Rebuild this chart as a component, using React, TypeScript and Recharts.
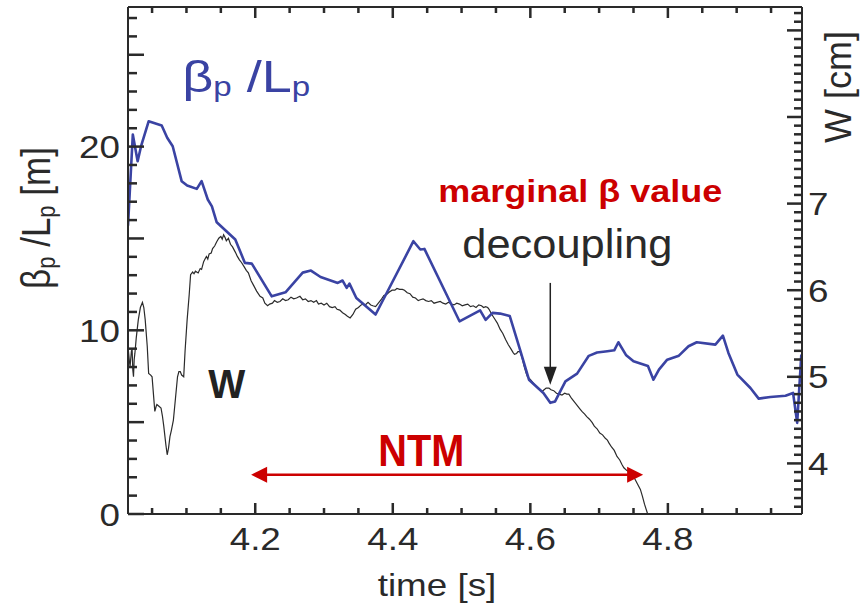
import React from 'react';
import { LineChart, Line, XAxis, YAxis, ReferenceLine, ReferenceDot } from 'recharts';

// beta_p / L_p [m], left axis
const T_BETA = [
  4.015, 4.022, 4.029, 4.034, 4.045, 4.064, 4.072, 4.08, 4.093, 4.101,
  4.115, 4.122, 4.131, 4.137, 4.144, 4.171, 4.185, 4.195, 4.224, 4.244,
  4.269, 4.281, 4.295, 4.32, 4.327, 4.333, 4.337, 4.347, 4.375, 4.43,
  4.44, 4.446, 4.497, 4.527, 4.535, 4.545, 4.556, 4.57, 4.585, 4.598,
  4.619, 4.629, 4.636, 4.651, 4.668, 4.685, 4.697, 4.712, 4.722, 4.728,
  4.739, 4.75, 4.771, 4.779, 4.787, 4.799, 4.816, 4.83, 4.842, 4.869,
  4.88, 4.888, 4.901, 4.92, 4.932, 4.949, 4.971, 4.982, 4.988, 4.994,
];
const BETA = [
  15.7, 20.66, 19.2, 20.02, 21.38, 21.15, 20.48, 20.02, 18.12, 17.88,
  17.7, 18.12, 17.12, 16.75, 15.88, 14.94, 13.67, 13.63, 11.85, 12.07,
  13.14, 13.25, 12.9, 12.58, 12.71, 12.31, 12.54, 11.76, 10.86, 14.85,
  14.4, 14.43, 10.49, 11.09, 10.57, 10.95, 10.91, 10.78, 8.95, 7.31,
  6.59, 6.05, 6.13, 7.22, 7.64, 8.61, 8.79, 8.86, 8.91, 9.35,
  8.66, 8.31, 8.06, 7.31, 7.86, 8.4, 8.62, 9.13, 9.35, 9.22,
  9.71, 8.77, 7.59, 6.86, 6.28, 6.37, 6.44, 6.59, 4.96, 8.68,
];

// island width W [cm], right axis
const T_W = [
  4.015, 4.017, 4.018, 4.02, 4.021, 4.022, 4.023, 4.024, 4.025, 4.027,
  4.03, 4.033, 4.036, 4.038, 4.04, 4.043, 4.045, 4.048, 4.05, 4.052,
  4.054, 4.056, 4.057, 4.06, 4.063, 4.065, 4.067, 4.07, 4.072, 4.074,
  4.076, 4.078, 4.081, 4.084, 4.087, 4.089, 4.091, 4.093, 4.096, 4.098,
  4.101, 4.104, 4.106, 4.109, 4.111, 4.113, 4.117, 4.12, 4.122, 4.125,
  4.127, 4.129, 4.131, 4.133, 4.136, 4.138, 4.141, 4.144, 4.147, 4.15,
  4.152, 4.154, 4.156, 4.158, 4.161, 4.164, 4.167, 4.171, 4.174, 4.177,
  4.18, 4.184, 4.187, 4.19, 4.194, 4.198, 4.202, 4.207, 4.211, 4.214,
  4.218, 4.221, 4.225, 4.228, 4.232, 4.236, 4.24, 4.244, 4.248, 4.252,
  4.256, 4.26, 4.265, 4.269, 4.273, 4.277, 4.281, 4.285, 4.289, 4.292,
  4.296, 4.3, 4.304, 4.308, 4.312, 4.316, 4.319, 4.323, 4.327, 4.331,
  4.334, 4.338, 4.342, 4.346, 4.35, 4.354, 4.357, 4.36, 4.364, 4.368,
  4.371, 4.375, 4.379, 4.383, 4.387, 4.391, 4.395, 4.399, 4.403, 4.406,
  4.41, 4.414, 4.417, 4.421, 4.425, 4.429, 4.433, 4.437, 4.44, 4.444,
  4.448, 4.452, 4.456, 4.46, 4.464, 4.469, 4.473, 4.477, 4.481, 4.485,
  4.489, 4.493, 4.497, 4.501, 4.505, 4.509, 4.513, 4.517, 4.521, 4.525,
  4.529, 4.532, 4.535, 4.538, 4.54, 4.544, 4.548, 4.552, 4.556, 4.56,
  4.564, 4.568, 4.572, 4.575, 4.577, 4.58, 4.582, 4.585, 4.588, 4.591,
  4.594, 4.596, 4.6, 4.604, 4.608, 4.612, 4.615, 4.617, 4.62, 4.623,
  4.627, 4.63, 4.634, 4.638, 4.642, 4.646, 4.65, 4.653, 4.656, 4.66,
  4.664, 4.668, 4.672, 4.675, 4.679, 4.682, 4.686, 4.69, 4.693, 4.697,
  4.701, 4.705, 4.709, 4.712, 4.714, 4.718, 4.722, 4.726, 4.73, 4.733,
  4.736, 4.74, 4.744, 4.748, 4.752, 4.756, 4.76, 4.763, 4.766, 4.77,
  4.772,
];
const W_CM = [
  5.35, 5.18, 5.12, 5.3, 5.31, 5.08, 5.0, 5.2, 5.27, 5.45,
  5.66, 5.8, 5.86, 5.8, 5.66, 5.35, 5.04, 5.02, 5.0, 4.8,
  4.6, 4.66, 4.68, 4.66, 4.64, 4.55, 4.43, 4.22, 4.1, 4.18,
  4.31, 4.38, 4.5, 4.75, 5.0, 5.06, 5.06, 5.02, 5.0, 5.3,
  5.66, 5.95, 6.18, 6.21, 6.19, 6.22, 6.2, 6.25, 6.24, 6.33,
  6.36, 6.39, 6.36, 6.42, 6.43, 6.48, 6.51, 6.56, 6.6, 6.62,
  6.59, 6.64, 6.61, 6.57, 6.6, 6.53, 6.5, 6.44, 6.39, 6.35,
  6.32, 6.27, 6.23, 6.2, 6.11, 6.05, 5.99, 5.93, 5.91, 5.85,
  5.82, 5.84, 5.85, 5.88, 5.86, 5.87, 5.9, 5.88, 5.89, 5.92,
  5.9, 5.91, 5.93, 5.89, 5.9, 5.87, 5.88, 5.86, 5.88, 5.84,
  5.85, 5.83, 5.85, 5.81, 5.8, 5.81, 5.78, 5.77, 5.74, 5.72,
  5.7, 5.68, 5.72, 5.78, 5.8, 5.83, 5.84, 5.83, 5.86, 5.83,
  5.82, 5.81, 5.85, 5.89, 5.94, 5.95, 5.98, 6.0, 6.0, 6.02,
  6.01, 6.01, 6.0, 5.97, 5.96, 5.92, 5.91, 5.88, 5.89, 5.9,
  5.88, 5.87, 5.88, 5.85, 5.86, 5.87, 5.85, 5.84, 5.86, 5.84,
  5.83, 5.85, 5.84, 5.82, 5.83, 5.84, 5.81, 5.82, 5.8, 5.83,
  5.82, 5.8, 5.81, 5.8, 5.78, 5.72, 5.67, 5.62, 5.55, 5.5,
  5.43, 5.37, 5.32, 5.28, 5.26, 5.27, 5.29, 5.29, 5.22, 5.12,
  5.04, 5.0, 4.97, 4.93, 4.89, 4.86, 4.84, 4.83, 4.85, 4.87,
  4.87, 4.85, 4.84, 4.81, 4.8, 4.79, 4.81, 4.8, 4.8, 4.75,
  4.71, 4.67, 4.63, 4.6, 4.57, 4.54, 4.51, 4.47, 4.43, 4.4,
  4.35, 4.33, 4.29, 4.27, 4.24, 4.19, 4.15, 4.08, 4.04, 3.99,
  3.95, 3.92, 3.9, 3.87, 3.82, 3.76, 3.7, 3.62, 3.53, 3.43,
  3.38,
];

const X_DOMAIN = [4.015, 4.995];
const LEFT_DOMAIN = [0, 27.6];
const RIGHT_DOMAIN = [3.416, 9.27];

const X_TICKS = Array.from({ length: 19 }, (_, i) => Math.round((4.05 + i * 0.05) * 100) / 100);
const X_LABELS = [4.2, 4.4, 4.6, 4.8];
const LEFT_TICKS = Array.from({ length: 28 }, (_, i) => i);
const LEFT_LABELS = [0, 10, 20];
const RIGHT_TICKS = Array.from({ length: 58 }, (_, i) => Math.round((3.5 + i * 0.1) * 10) / 10);
const RIGHT_LABELS = [4, 5, 6, 7];

const betaData = T_BETA.map((t, i) => ({ t, v: BETA[i] }));
const wData = T_W.map((t, i) => ({ t, w: W_CM[i] }));

const CHART_W = 861;
const CHART_H = 609;
const MARGIN = { top: 7, right: 9, bottom: 35, left: 28 };
const PLOT_TOP = MARGIN.top;

const FONT = '"Liberation Sans", Arial, Helvetica, sans-serif';
const AXIS = '#2a2a2a';
const TEXT = '#2a2a2a';
const BLUE = '#3a43a3';
const RED = '#cc0000';
const SX = 1.15;
const TW = 2.5; // tick mark thickness

// tick marks point into the plot; drawn as thin filled rects
function BottomTick(props: any) {
  const x = Number(props.x);
  const y = Number(props.y);
  const v = props.payload.value;
  const len = Math.round(v * 100) % 20 === 0 ? 11 : 6;
  const showLabel = X_LABELS.some((l) => Math.abs(l - v) < 1e-6);
  return (
    <g>
      <rect x={x - TW / 2} y={y - len} width={TW} height={len} fill={AXIS} />
      <rect x={x - TW / 2} y={PLOT_TOP} width={TW} height={len} fill={AXIS} />
      {showLabel && (
        <text transform={`translate(${x},${y + 36}) scale(${SX},1)`} textAnchor="middle" fontSize={32} fontFamily={FONT} fill={TEXT}>
          {v.toFixed(1)}
        </text>
      )}
    </g>
  );
}

function LeftTick(props: any) {
  const x = Number(props.x);
  const y = Number(props.y);
  const v = props.payload.value;
  const len = v % 5 === 0 ? 16 : 9;
  const showLabel = LEFT_LABELS.includes(v);
  return (
    <g>
      <rect x={x} y={y - TW / 2} width={len} height={TW} fill={AXIS} />
      {showLabel && (
        <text transform={`translate(${x - 8},${y + 11.5}) scale(${SX},1)`} textAnchor="end" fontSize={32} fontFamily={FONT} fill={TEXT}>
          {v}
        </text>
      )}
    </g>
  );
}

function RightTick(props: any) {
  const x = Number(props.x);
  const y = Number(props.y);
  const v = props.payload.value;
  const len = Number.isInteger(v) ? 15 : 8;
  const showLabel = RIGHT_LABELS.includes(v);
  return (
    <g>
      <rect x={x - len} y={y - TW / 2} width={len} height={TW} fill={AXIS} />
      {showLabel && (
        <text transform={`translate(${x + 6},${y + 11.5}) scale(${SX},1)`} textAnchor="start" fontSize={32} fontFamily={FONT} fill={TEXT}>
          {v}
        </text>
      )}
    </g>
  );
}

function TimeLabel(props: any) {
  const vb = props.viewBox;
  const cx = vb.x + vb.width / 2 - 28;
  return (
    <text transform={`translate(${cx},${vb.y + 82}) scale(${SX},1)`} textAnchor="middle" fontSize={32} fontFamily={FONT} fill={TEXT}>
      time [s]
    </text>
  );
}

function BetaAxisLabel(props: any) {
  const vb = props.viewBox;
  return (
    <text transform={`translate(${vb.x + 22},${vb.y + 211}) scale(${SX},1) rotate(-90)`} textAnchor="middle" fontSize={35} fontFamily={FONT} fill={TEXT}>
      β<tspan fontSize={22} dy={4}>p</tspan>
      <tspan dy={-4}>{' /L'}</tspan>
      <tspan fontSize={22} dy={4}>p</tspan>
      <tspan dy={-4}>{' [m]'}</tspan>
    </text>
  );
}

function WAxisLabel(props: any) {
  const vb = props.viewBox;
  return (
    <text transform={`translate(${vb.x + 49},${vb.y + 80}) scale(1.05,1) rotate(-90)`} textAnchor="middle" fontSize={36} fontFamily={FONT} fill={TEXT}>
      W [cm]
    </text>
  );
}

const textShape = (content: React.ReactNode, style: any) => (p: any) => (
  <text x={p.cx} y={p.cy} fontFamily={FONT} {...style}>
    {content}
  </text>
);

function NtmArrow(p: any) {
  const { x1, y1, x2 } = p;
  const head = 16;
  const half = 8;
  return (
    <g>
      <line x1={x1 + head - 2} y1={y1} x2={x2 - head + 2} y2={y1} stroke={RED} strokeWidth={2.6} />
      <polygon points={`${x1},${y1} ${x1 + head},${y1 - half} ${x1 + head},${y1 + half}`} fill={RED} />
      <polygon points={`${x2},${y1} ${x2 - head},${y1 - half} ${x2 - head},${y1 + half}`} fill={RED} />
    </g>
  );
}

function DownArrow(p: any) {
  const { x1, y1, y2 } = p;
  const top = Math.min(y1, y2);
  const tip = Math.max(y1, y2);
  const head = 18;
  const half = 6.5;
  return (
    <g>
      <line x1={x1} y1={top} x2={x1} y2={tip - head + 2} stroke="#222" strokeWidth={1.5} />
      <polygon points={`${x1},${tip} ${x1 - half},${tip - head} ${x1 + half},${tip - head}`} fill="#222" />
    </g>
  );
}

export default function App() {
  return (
    <div style={{ position: 'absolute', left: 0, top: 0, width: CHART_W, height: CHART_H, background: '#fff' }}>
      <LineChart width={CHART_W} height={CHART_H} margin={MARGIN}>
        <XAxis
          dataKey="t"
          type="number"
          domain={X_DOMAIN}
          allowDataOverflow
          ticks={X_TICKS}
          interval={0}
          tickSize={0}
          tickMargin={0}
          tickLine={false}
          tick={(p: any) => <BottomTick {...p} />}
          axisLine={{ stroke: AXIS, strokeWidth: 2 }}
          height={60}
          label={{ content: (p: any) => <TimeLabel {...p} /> }}
        />
        <YAxis
          yAxisId="left"
          type="number"
          domain={LEFT_DOMAIN}
          allowDataOverflow
          ticks={LEFT_TICKS}
          interval={0}
          tickSize={0}
          tickMargin={0}
          tickLine={false}
          tick={(p: any) => <LeftTick {...p} />}
          axisLine={{ stroke: AXIS, strokeWidth: 2 }}
          width={100}
          label={{ content: (p: any) => <BetaAxisLabel {...p} /> }}
        />
        <YAxis
          yAxisId="right"
          orientation="right"
          type="number"
          domain={RIGHT_DOMAIN}
          allowDataOverflow
          ticks={RIGHT_TICKS}
          interval={0}
          tickSize={0}
          tickMargin={0}
          tickLine={false}
          tick={(p: any) => <RightTick {...p} />}
          axisLine={{ stroke: AXIS, strokeWidth: 2 }}
          width={50}
          label={{ content: (p: any) => <WAxisLabel {...p} /> }}
        />
        <ReferenceLine yAxisId="left" y={LEFT_DOMAIN[1]} stroke={AXIS} strokeWidth={2} ifOverflow="visible" />

        <Line
          data={wData}
          dataKey="w"
          yAxisId="right"
          type="linear"
          stroke="#2b2b2b"
          strokeWidth={1.2}
          dot={false}
          isAnimationActive={false}
        />
        <Line
          data={betaData}
          dataKey="v"
          yAxisId="left"
          type="linear"
          stroke={BLUE}
          strokeWidth={2.6}
          strokeLinejoin="round"
          dot={false}
          isAnimationActive={false}
        />

        <ReferenceLine
          yAxisId="left"
          segment={[{ x: 4.194, y: 2.14 }, { x: 4.764, y: 2.14 }]}
          shape={(p: any) => <NtmArrow {...p} />}
        />
        <ReferenceLine
          yAxisId="left"
          segment={[{ x: 4.629, y: 12.58 }, { x: 4.629, y: 7.04 }]}
          shape={(p: any) => <DownArrow {...p} />}
        />

        <ReferenceDot
          yAxisId="left"
          x={4.0938}
          y={22.95}
          r={0}
          shape={textShape(
            <>
              β<tspan fontSize={27} dy={4}>p</tspan>
              <tspan dy={-4}>{' /L'}</tspan>
              <tspan fontSize={27} dy={4}>p</tspan>
            </>,
            { fontSize: 44, fill: BLUE, textLength: 128, lengthAdjust: 'spacingAndGlyphs' },
          )}
        />
        <ReferenceDot
          yAxisId="left"
          x={4.1316}
          y={6.33}
          r={0}
          shape={textShape('W', { fontSize: 40, fontWeight: 'bold', fill: '#222', textLength: 37, lengthAdjust: 'spacingAndGlyphs' })}
        />
        <ReferenceDot
          yAxisId="left"
          x={4.4662}
          y={17.01}
          r={0}
          shape={textShape('marginal β value', { fontSize: 31, fontWeight: 'bold', fill: RED, textLength: 284, lengthAdjust: 'spacingAndGlyphs' })}
        />
        <ReferenceDot
          yAxisId="left"
          x={4.5011}
          y={13.91}
          r={0}
          shape={textShape('decoupling', { fontSize: 40, fill: TEXT, textLength: 210, lengthAdjust: 'spacingAndGlyphs' })}
        />
        <ReferenceDot
          yAxisId="left"
          x={4.379}
          y={2.63}
          r={0}
          shape={textShape('NTM', { fontSize: 44, fontWeight: 'bold', fill: RED, textLength: 86, lengthAdjust: 'spacingAndGlyphs' })}
        />
      </LineChart>
    </div>
  );
}
